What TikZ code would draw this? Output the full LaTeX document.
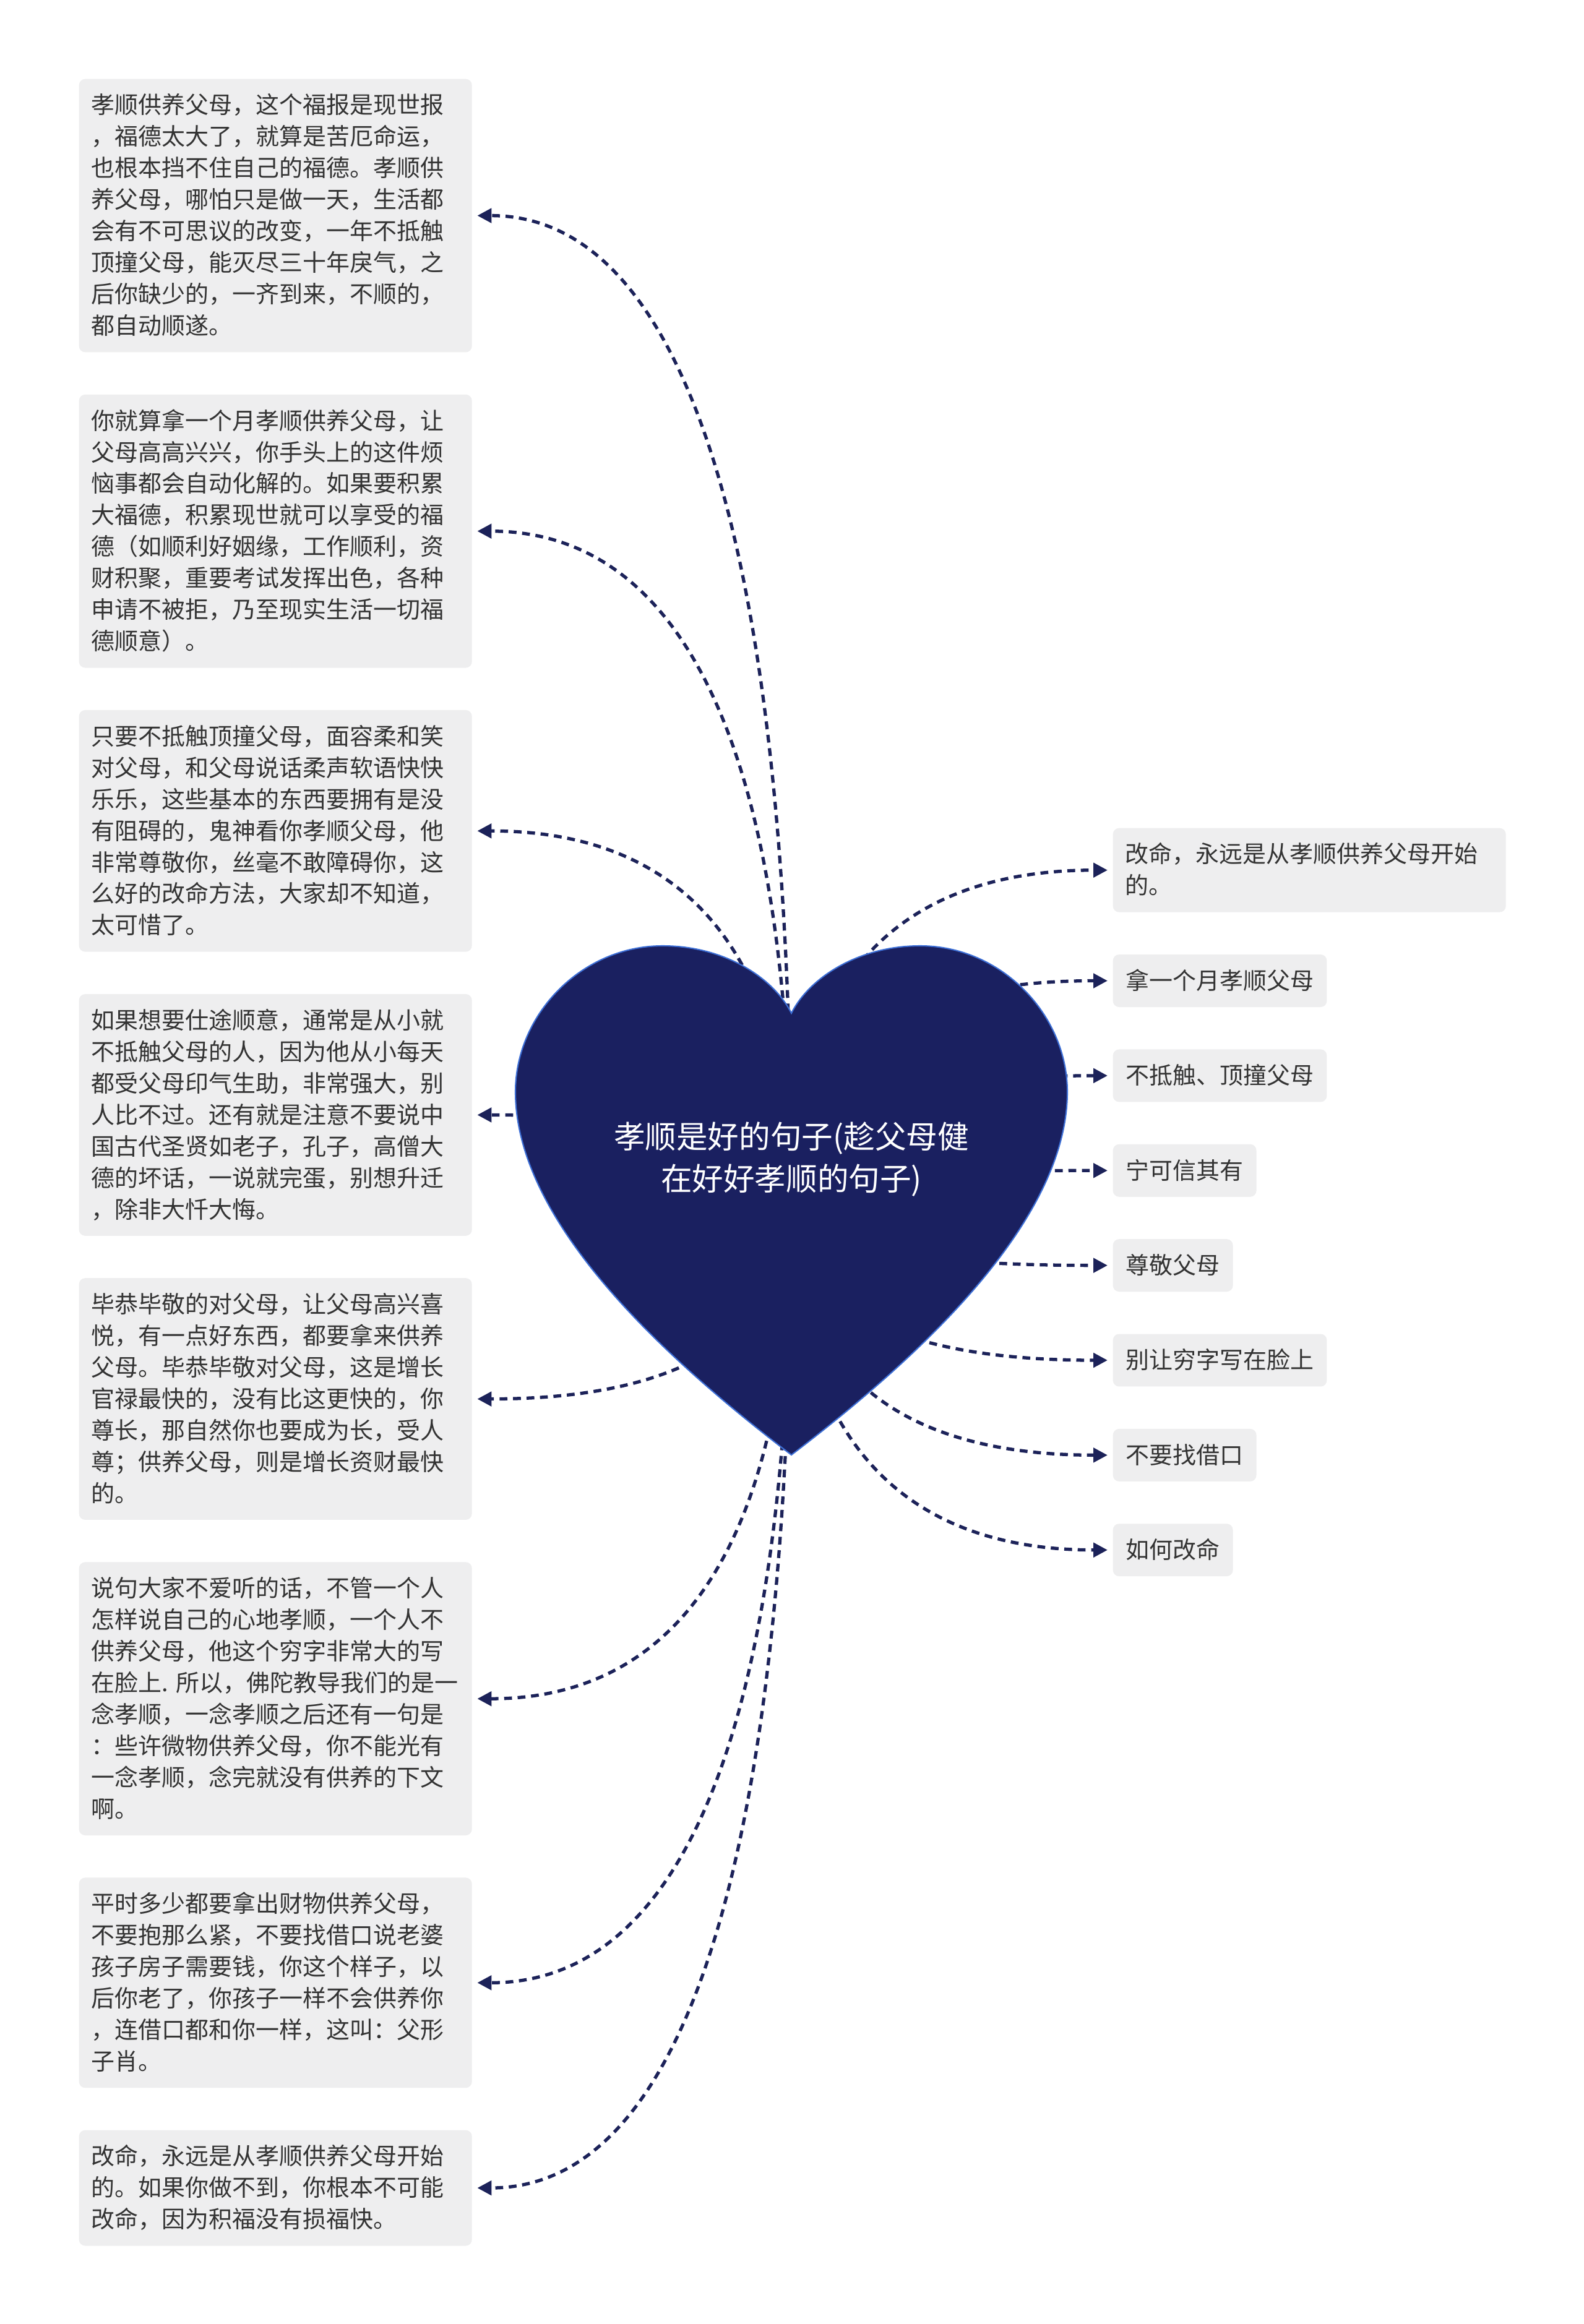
\documentclass[tikz,border=0pt]{standalone}
\usepackage{fontspec}
\setmainfont{Noto Sans CJK SC}
\usepackage{xcolor}
\usetikzlibrary{arrows.meta, positioning, calc}

\definecolor{heartnavy}{HTML}{1A2060}
\definecolor{heartrim}{HTML}{3D6FD6}
\definecolor{linknavy}{HTML}{1C2259}
\definecolor{notegray}{HTML}{EEEEEF}
\definecolor{notetext}{HTML}{333333}

\newcommand{\notefont}{\fontsize{10.8pt}{14.5pt}\selectfont}
\newcommand{\rootfont}{\fontsize{14.4pt}{19.6pt}\selectfont}
\newcommand{\notestrut}{\rule[-0.23\baselineskip]{0pt}{\baselineskip}}

\begin{document}
\begin{tikzpicture}[
        % Node styles
        note/.style={rectangle, rounded corners=1mm, fill=notegray, text=notetext,
                     font=\notefont, text width=5.95cm, align=left,
                     inner xsep=2mm, inner ysep=1.7mm,
                     execute at begin node=\notestrut, execute at end node=\notestrut},
        tag/.style={rectangle, rounded corners=1mm, fill=notegray, text=notetext,
                    font=\notefont, inner xsep=2.1mm, inner ysep=1.7mm,
                    execute at begin node=\notestrut},
        heart/.style={fill=heartnavy, draw=heartrim, line width=0.6pt},
        link/.style={draw=linknavy, line width=1.5pt, dash pattern=on 3.6pt off 2.6pt,
                     -{Triangle[length=2.3mm, width=2.3mm]}, shorten >=0.8mm}
    ]
        \fill[white] (0,0) rectangle (25.6,-37.57);
        \useasboundingbox (0,0) rectangle (25.6,-37.57);

        % Left column
        \node[note, anchor=north west] (lbox1) at (1.27,-1.27) {孝顺供养父母，这个福报是现世报\\，福德太大了，就算是苦厄命运，\\也根本挡不住自己的福德。孝顺供\\养父母，哪怕只是做一天，生活都\\会有不可思议的改变，一年不抵触\\顶撞父母，能灭尽三十年戾气，之\\后你缺少的，一齐到来，不顺的，\\都自动顺遂。};
        \node[note, below=0.67cm of lbox1] (lbox2) {你就算拿一个月孝顺供养父母，让\\父母高高兴兴，你手头上的这件烦\\恼事都会自动化解的。如果要积累\\大福德，积累现世就可以享受的福\\德（如顺利好姻缘，工作顺利，资\\财积聚，重要考试发挥出色，各种\\申请不被拒，乃至现实生活一切福\\德顺意）。};
        \node[note, below=0.67cm of lbox2] (lbox3) {只要不抵触顶撞父母，面容柔和笑\\对父母，和父母说话柔声软语快快\\乐乐，这些基本的东西要拥有是没\\有阻碍的，鬼神看你孝顺父母，他\\非常尊敬你，丝毫不敢障碍你，这\\么好的改命方法，大家却不知道，\\太可惜了。};
        \node[note, below=0.67cm of lbox3] (lbox4) {如果想要仕途顺意，通常是从小就\\不抵触父母的人，因为他从小每天\\都受父母印气生助，非常强大，别\\人比不过。还有就是注意不要说中\\国古代圣贤如老子，孔子，高僧大\\德的坏话，一说就完蛋，别想升迁\\，除非大忏大悔。};
        \node[note, below=0.67cm of lbox4] (lbox5) {毕恭毕敬的对父母，让父母高兴喜\\悦，有一点好东西，都要拿来供养\\父母。毕恭毕敬对父母，这是增长\\官禄最快的，没有比这更快的，你\\尊长，那自然你也要成为长，受人\\尊；供养父母，则是增长资财最快\\的。};
        \node[note, below=0.67cm of lbox5] (lbox6) {说句大家不爱听的话，不管一个人\\怎样说自己的心地孝顺，一个人不\\供养父母，他这个穷字非常大的写\\在脸上.~所以，佛陀教导我们的是一\\念孝顺，一念孝顺之后还有一句是\\：些许微物供养父母，你不能光有\\一念孝顺，念完就没有供养的下文\\啊。};
        \node[note, below=0.67cm of lbox6] (lbox7) {平时多少都要拿出财物供养父母，\\不要抱那么紧，不要找借口说老婆\\孩子房子需要钱，你这个样子，以\\后你老了，你孩子一样不会供养你\\，连借口都和你一样，这叫：父形\\子肖。};
        \node[note, below=0.67cm of lbox7] (lbox8) {改命，永远是从孝顺供养父母开始\\的。如果你做不到，你根本不可能\\改命，因为积福没有损福快。};

        % Right column
        \node[note, anchor=north west] (rbox1) at (17.98,-13.38) {改命，永远是从孝顺供养父母开始\\的。};
        \node[tag, below=0.67cm of rbox1.south west, anchor=north west] (rbox2) {拿一个月孝顺父母};
        \node[tag, below=0.67cm of rbox2.south west, anchor=north west] (rbox3) {不抵触、顶撞父母};
        \node[tag, below=0.67cm of rbox3.south west, anchor=north west] (rbox4) {宁可信其有};
        \node[tag, below=0.67cm of rbox4.south west, anchor=north west] (rbox5) {尊敬父母};
        \node[tag, below=0.67cm of rbox5.south west, anchor=north west] (rbox6) {别让穷字写在脸上};
        \node[tag, below=0.67cm of rbox6.south west, anchor=north west] (rbox7) {不要找借口};
        \node[tag, below=0.67cm of rbox7.south west, anchor=north west] (rbox8) {如何改命};

        % Connectors from the heart centre
        \coordinate (hub) at (12.79,-19.40);
        \foreach \b in {lbox1,lbox2,lbox3,lbox4,lbox5,lbox6,lbox7,lbox8}
            \draw[link] (hub) .. controls ($(hub)!2/3!(hub |- \b.east)$) and ($(\b.east)!2/3!(hub |- \b.east)$) .. (\b.east);
        \foreach \b in {rbox1,rbox2,rbox3,rbox4,rbox5,rbox6,rbox7,rbox8}
            \draw[link] (hub) .. controls ($(hub)!2/3!(hub |- \b.west)$) and ($(\b.west)!2/3!(hub |- \b.west)$) .. (\b.west);

        % Heart
        \draw[heart] (12.79,-23.52)
            .. controls (10.40,-21.70) and (8.33,-19.60) .. (8.33,-17.65)
            .. controls (8.33,-16.40) and (9.40,-15.29) .. (10.71,-15.29)
            .. controls (11.70,-15.29) and (12.50,-15.80) .. (12.79,-16.38)
            .. controls (13.08,-15.80) and (13.88,-15.29) .. (14.87,-15.29)
            .. controls (16.18,-15.29) and (17.25,-16.40) .. (17.25,-17.65)
            .. controls (17.25,-19.60) and (15.18,-21.70) .. (12.79,-23.52) -- cycle;
        \node[text=white, font=\rootfont, align=center] (root) at (12.79,-18.74) {孝顺是好的句子(趁父母健\\在好好孝顺的句子)};
    \end{tikzpicture}
\end{document}
